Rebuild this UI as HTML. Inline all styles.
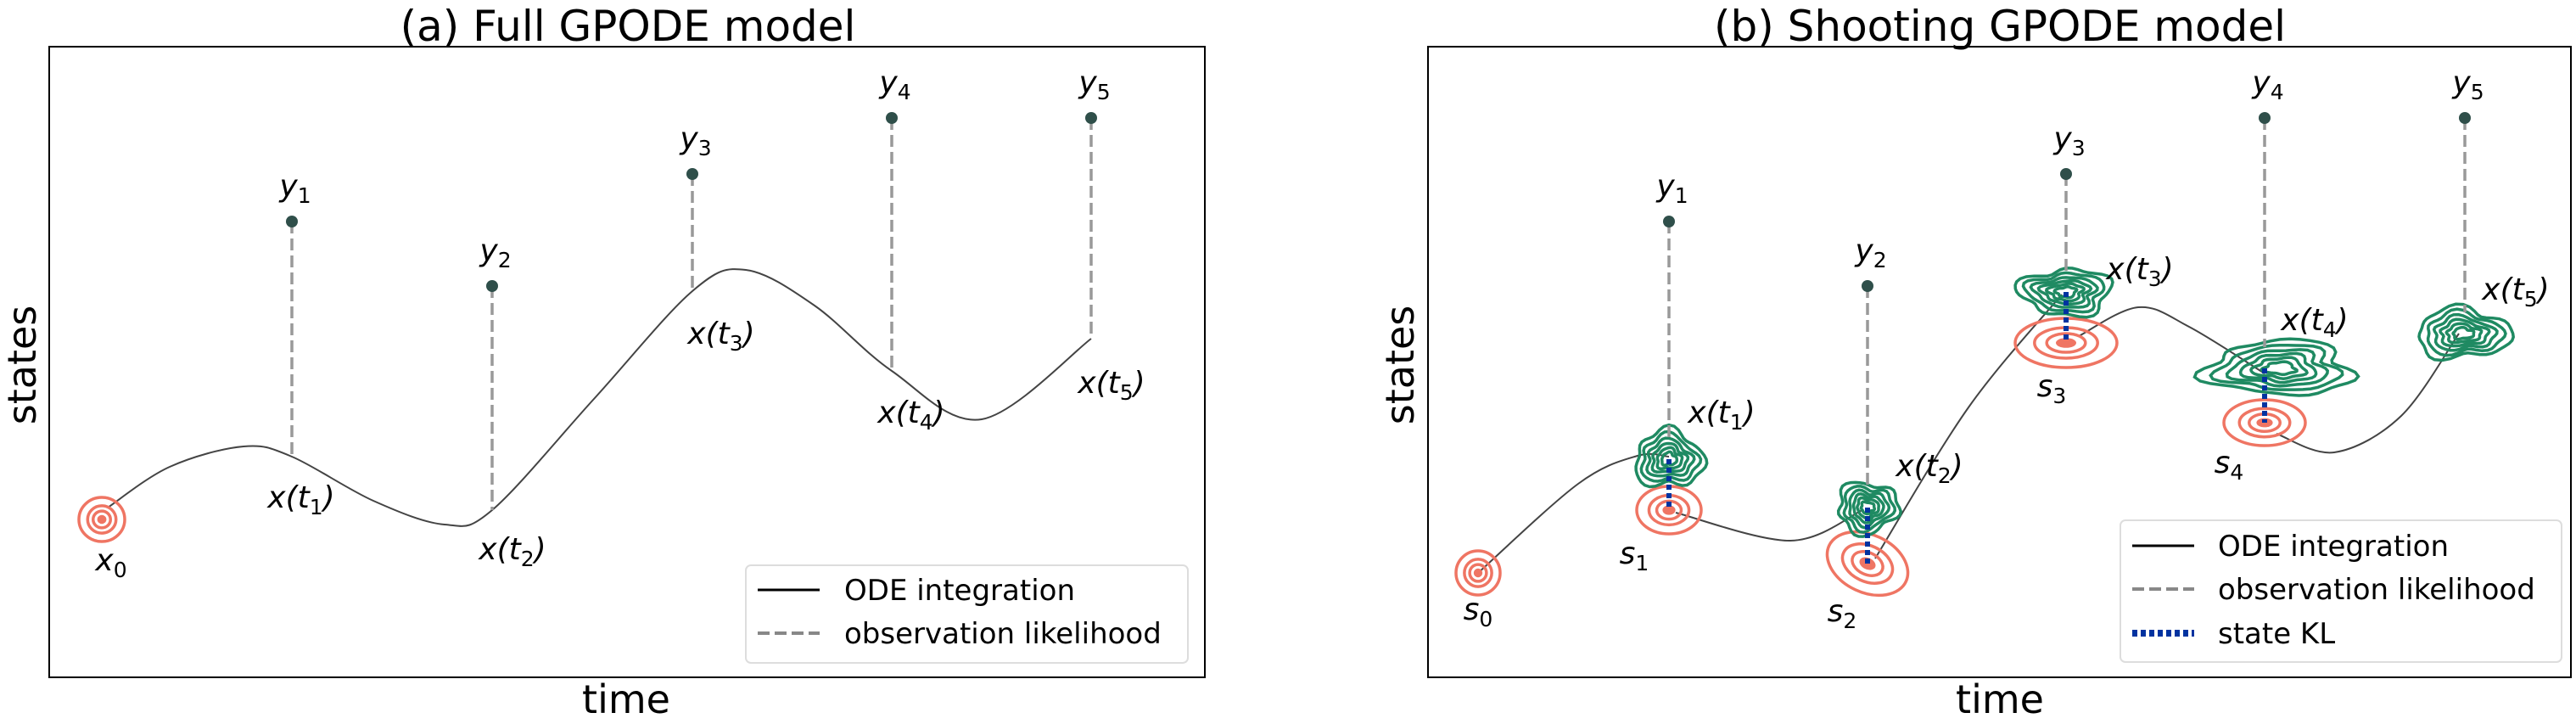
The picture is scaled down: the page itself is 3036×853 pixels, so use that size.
<!DOCTYPE html>
<html><head><meta charset="utf-8"><style>
html,body{margin:0;padding:0;background:#fff;}
svg{display:block;font-family:"DejaVu Sans","Liberation Sans",sans-serif;}
.m{font-style:italic;font-size:36px;fill:#000;}
</style></head><body>
<svg id="fig" width="3036" height="853" viewBox="0 0 3036 853" xmlns="http://www.w3.org/2000/svg">
<g>
<text x="740" y="48" font-size="50" text-anchor="middle">(a) Full GPODE model</text>
<rect x="58" y="55" width="1362" height="743" fill="none" stroke="#000" stroke-width="2"/>
<text x="0" y="0" font-size="46" text-anchor="middle" transform="translate(42,430) rotate(-90)">states</text>
<text x="738" y="840" font-size="46" text-anchor="middle">time</text>
<g id="layerA"></g>
<g>
<rect x="879" y="666" width="521" height="115" rx="6" fill="#fff" stroke="#ddd" stroke-width="2"/>
<line x1="893" y1="695" x2="966" y2="695" stroke="#000" stroke-width="3"/>
<text x="995" y="707" font-size="34">ODE integration</text>
<line x1="893" y1="746" x2="966" y2="746" stroke="#888" stroke-width="4" stroke-dasharray="14,6"/>
<text x="995" y="758" font-size="34">observation likelihood</text>
</g>
</g>
<g>
<text x="2357" y="48" font-size="50" text-anchor="middle">(b) Shooting GPODE model</text>
<rect x="1683" y="55" width="1347" height="743" fill="none" stroke="#000" stroke-width="2"/>
<text x="0" y="0" font-size="46" text-anchor="middle" transform="translate(1666,430) rotate(-90)">states</text>
<text x="2357" y="840" font-size="46" text-anchor="middle">time</text>
<g id="layerB"></g>
<g>
<rect x="2499" y="613" width="520" height="167" rx="6" fill="#fff" stroke="#ddd" stroke-width="2"/>
<line x1="2513" y1="643" x2="2586" y2="643" stroke="#000" stroke-width="3"/>
<text x="2614" y="655" font-size="34">ODE integration</text>
<line x1="2513" y1="694" x2="2586" y2="694" stroke="#888" stroke-width="4" stroke-dasharray="14,6"/>
<text x="2614" y="706" font-size="34">observation likelihood</text>
<line x1="2513" y1="746" x2="2586" y2="746" stroke="#0033a0" stroke-width="8" stroke-dasharray="6,4"/>
<text x="2614" y="758" font-size="34">state KL</text>
</g>
</g>
</svg>
<script>
// Panel (a) data (pixel-space schematic coordinates)
const aCurveX = [127, 200, 287, 344, 440, 524, 580, 700, 816, 879, 960, 1051, 1157, 1286];
const aCurveY = [598, 550, 526, 538, 590, 618, 601, 470, 343, 318, 360, 437, 494, 399];
const aObsX = [344, 580, 816, 1051, 1286];
const aObsY = [261, 337, 205, 139, 139];
const aStateY = [538, 601, 343, 437, 399];
const aStateLabelDX = [11, 24, 34, 23, 24];
const aStateLabelDY = [60, 58, 62, 61, 64];
// Panel (b) data
const bSX = [1742, 1967, 2201, 2435, 2669];
const bSY = [675, 601, 664, 404, 498];
const bObsX = [1967, 2201, 2435, 2669, 2905];
const bObsY = [261, 337, 205, 139, 139];
const bGX = [1967, 2201, 2435, 2687, 2903];
const bGY = [541, 598, 344, 434, 393];
const bGRX = [40, 35, 54, 84, 55];
const bGRY = [33, 30, 27, 32, 29];
const bRRX = [26, 38, 50, 60, 48];
const bRRY = [26, 28, 34, 29, 27];
const bRRot = [0, 0, 25, 0, 0];
const segX = [[1742,1860,1930,1967],[1975,2110,2195],[2210,2320,2430],[2450,2520,2580,2669],[2683,2751,2830,2898]];
const segY = [[675,570,537,538],[604,637,601],[658,480,347],[396,362,385,440],[511,533,490,393]];

const NS = "http://www.w3.org/2000/svg";
function mk(tag, attrs, parent){const e=document.createElementNS(NS,tag);for(const k in attrs)e.setAttribute(k,attrs[k]);parent.appendChild(e);return e;}
function smooth(xs, ys){
  let d = "M"+xs[0]+","+ys[0];
  for(let i=0;i<xs.length-1;i++){
    const x0=xs[Math.max(i-1,0)],y0=ys[Math.max(i-1,0)],x1=xs[i],y1=ys[i],x2=xs[i+1],y2=ys[i+1];
    const x3=xs[Math.min(i+2,xs.length-1)],y3=ys[Math.min(i+2,xs.length-1)];
    d+=" C"+(x1+(x2-x0)/6)+","+(y1+(y2-y0)/6)+" "+(x2-(x3-x1)/6)+","+(y2-(y3-y1)/6)+" "+x2+","+y2;
  }
  return d;
}
function mathLabel(parent, x, y, base, sub, paren){
  const t = mk("text",{x:x,y:y,"text-anchor":"middle",class:"m"},parent);
  
  
  if(paren){
    t.appendChild(document.createTextNode(base+"("));
    const ti=mk("tspan",{},t); ti.textContent="t";
    const s=mk("tspan",{dy:"8","font-size":"25","font-style":"normal"},t); s.textContent=sub;
    const c=mk("tspan",{dy:"-8"},t); c.textContent=")";
  } else {
    t.appendChild(document.createTextNode(base));
    const s=mk("tspan",{dy:"8","font-size":"25","font-style":"normal"},t); s.textContent=sub;
  }
}
function redRings(parent, cx, cy, rx, ry, rot){
  const g = mk("g",{transform:"rotate("+rot+","+cx+","+cy+")"},parent);
  
  
  [1,0.62,0.38].forEach(s=>mk("ellipse",{cx:cx,cy:cy,rx:rx*s,ry:ry*s,fill:"none",stroke:"#ef7563","stroke-width":3.5},g));
  mk("ellipse",{cx:cx,cy:cy,rx:rx*0.2,ry:ry*0.2,fill:"#ef7563"},g);
}
function greenBlob(parent, cx, cy, rx, ry, seed){
  const g = mk("g",{},parent);
  
  
  [1,0.82,0.65,0.5,0.36,0.22].forEach((s,k)=>{
    let d="";
    for(let i=0;i<=48;i++){
      const a=i/48*Math.PI*2;
      const r=1+0.12*Math.sin(3*a+seed)+0.08*Math.cos(5*a+seed*2)+0.05*Math.sin(7*a+k);
      const px=cx+rx*s*r*Math.cos(a), py=cy+ry*s*r*Math.sin(a);
      d+=(i?"L":"M")+px.toFixed(1)+","+py.toFixed(1);
    }
    mk("path",{d:d+"Z",fill:"none",stroke:"#1f8a62","stroke-width":3.5},g);
  });
}
// Panel A
const LA = document.getElementById("layerA");
const ca = mk("path",{d:smooth(aCurveX,aCurveY),fill:"none",stroke:"#444","stroke-width":2},LA);


redRings(LA, aCurveX[0]-7, aCurveY[0]+14, 27, 26, 0);
mathLabel(LA, aCurveX[0]+4, 672, "x", "0", false);
for(let i=0;i<aObsX.length;i++){
  const l = mk("line",{x1:aObsX[i],y1:aObsY[i],x2:aObsX[i],y2:aStateY[i],stroke:"#999","stroke-width":3.5,"stroke-dasharray":"14,6"},LA);
  
  
  const c = mk("circle",{cx:aObsX[i],cy:aObsY[i],r:7,fill:"#2f4f4a"},LA);
  
  
  mathLabel(LA, aObsX[i]+4, aObsY[i]-30, "y", String(i+1), false);
  mathLabel(LA, aObsX[i]+aStateLabelDX[i], aStateY[i]+aStateLabelDY[i], "x", String(i+1), true);
}
// Panel B
const LB = document.getElementById("layerB");
for(let i=0;i<segX.length;i++){
  const p = mk("path",{d:smooth(segX[i],segY[i]),fill:"none",stroke:"#444","stroke-width":2},LB);
  
  
}
for(let i=0;i<bSX.length;i++){
  redRings(LB, bSX[i], bSY[i], bRRX[i], bRRY[i], bRRot[i]);
  const sdy = [55, 63, 68, 63, 59][i];
  mathLabel(LB, bSX[i]+[0,-41,-30,-17,-42][i], bSY[i]+sdy, "s", String(i), false);
}
for(let i=0;i<bObsX.length;i++){
  greenBlob(LB, bGX[i], bGY[i], bGRX[i], bGRY[i], i*1.7+0.5);
  const l = mk("line",{x1:bObsX[i],y1:bObsY[i],x2:bObsX[i],y2:bGY[i]-25,stroke:"#999","stroke-width":3.5,"stroke-dasharray":"14,6"},LB);
  
  
  const c = mk("circle",{cx:bObsX[i],cy:bObsY[i],r:7,fill:"#2f4f4a"},LB);
  
  
  mathLabel(LB, bObsX[i]+4, bObsY[i]-30, "y", String(i+1), false);
  mathLabel(LB, bObsX[i]+[62,73,87,59,60][i], bGY[i]-[43,37,15,45,40][i], "x", String(i+1), true);
  if(i<4){
    const k = mk("line",{x1:bObsX[i],y1:bGY[i],x2:bObsX[i],y2:bSY[i+1],stroke:"#0033a0","stroke-width":6,"stroke-dasharray":"6,4"},LB);
    
    
  }
}
</script>
</body></html>
